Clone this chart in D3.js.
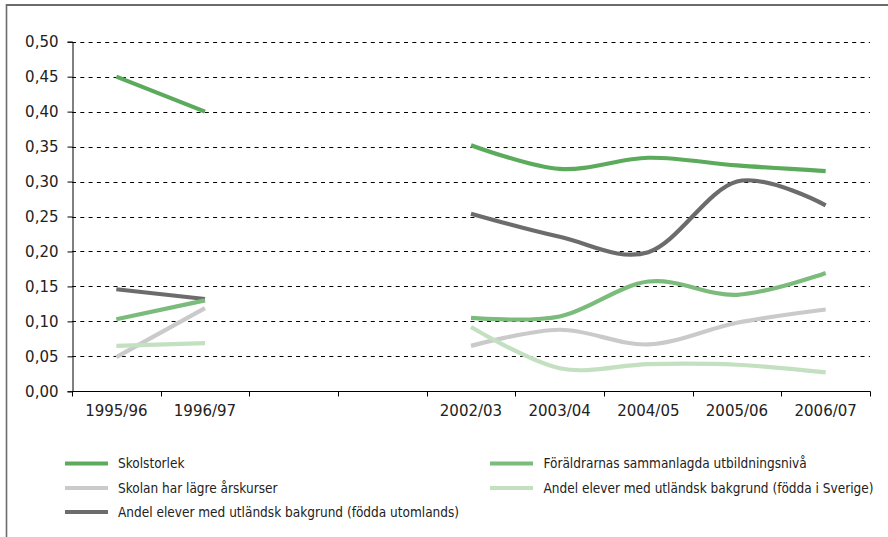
<!DOCTYPE html>
<html>
<head>
<meta charset="utf-8">
<script src="https://cdn.jsdelivr.net/npm/d3@7"></script>
<style>
  html, body { margin: 0; padding: 0; background: #fff; }
  svg { display: block; }
</style>
</head>
<body>
<svg id="chart" width="888" height="537"></svg>
<script>
// Läsår; two school years without data sit between 1996/97 and 2002/03
const categories = ["1995/96", "1996/97", "", "", "2002/03", "2003/04", "2004/05", "2005/06", "2006/07"];
const yTicks = [0, 0.05, 0.10, 0.15, 0.20, 0.25, 0.30, 0.35, 0.40, 0.45, 0.50];

const skolstorlek      = [0.450, 0.400, null, null, 0.352, 0.318, 0.334, 0.323, 0.315];
const foraldrarUtb     = [0.103, 0.130, null, null, 0.105, 0.107, 0.157, 0.138, 0.169];
const lagreArskurser   = [0.049, 0.119, null, null, 0.065, 0.088, 0.067, 0.098, 0.117];
const foddaISverige    = [0.065, 0.069, null, null, 0.092, 0.033, 0.039, 0.038, 0.027];
const foddaUtomlands   = [0.146, 0.132, null, null, 0.254, 0.221, 0.199, 0.300, 0.266];

const seriesNames = [
  "Skolstorlek",
  "Föräldrarnas sammanlagda utbildningsnivå",
  "Skolan har lägre årskurser",
  "Andel elever med utländsk bakgrund (födda i Sverige)",
  "Andel elever med utländsk bakgrund (födda utomlands)"
];
const seriesValues = [skolstorlek, foraldrarUtb, lagreArskurser, foddaISverige, foddaUtomlands];
const seriesColors = ["#5cab5c", "#7bbb7b", "#cacaca", "#c3e0c1", "#6c6c6c"];

const svg = d3.select("#chart");

// frame: top and left rule
svg.append("line").attr("x1", 6).attr("x2", 888).attr("y1", 5).attr("y2", 5)
  .attr("stroke", "#6b6b6b").attr("stroke-width", 2);
svg.append("line").attr("x1", 6.5).attr("x2", 6.5).attr("y1", 4).attr("y2", 537)
  .attr("stroke", "#6b6b6b").attr("stroke-width", 1.6);

const plotLeft = 72, plotRight = 870, plotTop = 41.7, plotBottom = 391.3;

const x = d3.scaleBand().domain(d3.range(categories.length)).range([plotLeft, plotRight]).padding(0);
const y = d3.scaleLinear().domain([0, 0.5]).range([plotBottom, plotTop]);

const tickFont = "DejaVu Sans, Verdana, sans-serif";

// dashed gridlines
svg.append("g").selectAll("line")
  .data(yTicks.filter(t => t > 0))
  .join("line")
  .attr("x1", plotLeft).attr("x2", plotRight)
  .attr("y1", d => Math.round(y(d)) + 0.5).attr("y2", d => Math.round(y(d)) + 0.5)
  .attr("stroke", "#000").attr("stroke-width", 1)
  .attr("stroke-dasharray", "4,4.3");

// y axis
const yAxis = svg.append("g")
  .attr("transform", `translate(${plotLeft + 0.5},0)`)
  .call(d3.axisLeft(y).tickValues(yTicks).tickSize(5).tickPadding(9)
    .tickFormat(d => d3.format(".2f")(d).replace(".", ",")));
yAxis.select(".domain").attr("stroke", "#000");
yAxis.selectAll(".tick line").attr("stroke", "#000");
yAxis.selectAll("text").attr("font-family", tickFont).attr("font-size", 15).attr("fill", "#222");

// x axis with ticks on category boundaries
const xAxis = svg.append("g").attr("transform", `translate(0,${Math.round(plotBottom) + 0.5})`);
xAxis.append("line").attr("x1", plotLeft).attr("x2", plotRight + 0.5).attr("stroke", "#000");
const bounds = d3.range(categories.length + 1).map(i => i < categories.length ? x(i) : x(categories.length - 1) + x.bandwidth());
xAxis.selectAll(".bt").data(bounds).join("line")
  .attr("class", "bt")
  .attr("x1", d => Math.round(d) + 0.5).attr("x2", d => Math.round(d) + 0.5)
  .attr("y1", 0).attr("y2", 5).attr("stroke", "#000");
xAxis.selectAll(".lbl").data(categories.map((c, i) => ({c, i})).filter(d => d.c))
  .join("text")
  .attr("class", "lbl")
  .attr("x", d => x(d.i) + x.bandwidth() / 2)
  .attr("y", 24)
  .attr("text-anchor", "middle")
  .attr("font-family", tickFont).attr("font-size", 15).attr("fill", "#222")
  .text(d => d.c);

// lines
const line = d3.line()
  .defined(d => d.v != null)
  .x(d => x(d.i) + x.bandwidth() / 2)
  .y(d => y(d.v))
  .curve(d3.curveCardinal.tension(0));

const drawOrder = [4, 2, 3, 0, 1];
svg.append("g").selectAll("path")
  .data(drawOrder)
  .join("path")
  .attr("fill", "none")
  .attr("stroke", k => seriesColors[k])
  .attr("stroke-width", 4.2)
  .attr("d", k => line(seriesValues[k].map((v, i) => ({v, i}))));

// legend
const legendPos = [
  {x: 65, y: 463.5}, {x: 490, y: 463.5},
  {x: 65, y: 488}, {x: 490, y: 488},
  {x: 65, y: 512}
];
const lg = svg.append("g").selectAll("g").data(seriesNames).join("g")
  .attr("transform", (d, k) => `translate(${legendPos[k].x},${legendPos[k].y})`);
lg.append("line").attr("x1", 0).attr("x2", 43)
  .attr("stroke", (d, k) => seriesColors[k]).attr("stroke-width", 4);
lg.append("text")
  .attr("x", (d, k) => k % 2 === 0 ? 53 : 53.5)
  .attr("dy", "0.36em")
  .attr("font-family", "DejaVu Sans Condensed, DejaVu Sans, sans-serif")
  .attr("font-stretch", "condensed")
  .attr("font-size", 13.5).attr("fill", "#222")
  .text(d => d);
</script>
</body>
</html>
